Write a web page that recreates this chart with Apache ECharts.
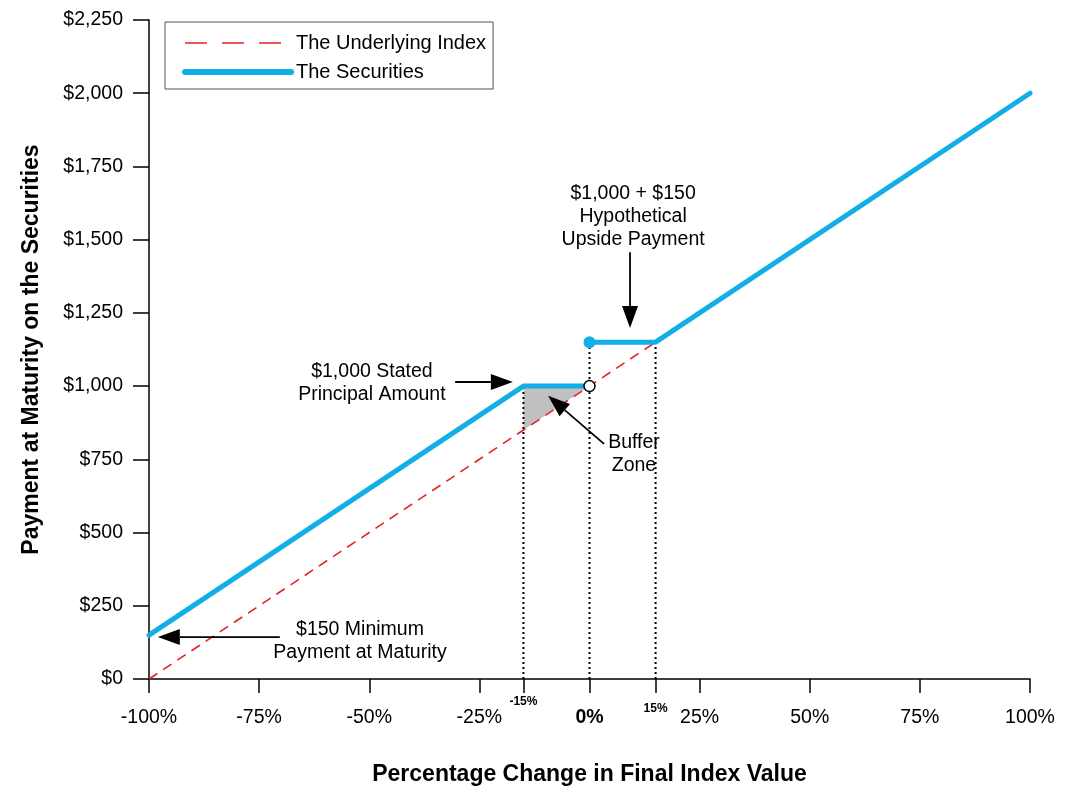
<!DOCTYPE html>
<html><head><meta charset="utf-8">
<script src="https://cdn.jsdelivr.net/npm/echarts@6/dist/echarts.min.js"></script>
<style>html,body{margin:0;padding:0;background:#fff}#c{width:1074px;height:791px}</style>
</head><body><div id="c"></div>
<script>
// ---- data ----
const xTickValues = [-100, -75, -50, -25, -15, 0, 15, 25, 50, 75, 100];
const xLabelValues = [-100, -75, -50, -25, -15, 0, 15, 25, 50, 75, 100];
const yTickValues = [0, 250, 500, 750, 1000, 1250, 1500, 1750, 2000, 2250];
const underlyingX = [-100, 100];
const underlyingY = [0, 2000];
const securitiesLowX = [-100, -15, 0];
const securitiesLowY = [150, 1000, 1000];
const securitiesHighX = [0, 15, 100];
const securitiesHighY = [1150, 1150, 2000];
const bufferX = [-15, 0, -15];
const bufferY = [1000, 1000, 850];
const guideX = [-15, 0, 15];
const guideTop = [1000, 1150, 1150];
const noteText = ['$150 Minimum\nPayment at Maturity', '$1,000 Stated\nPrincipal Amount', 'Buffer\nZone', '$1,000 + $150\nHypothetical\nUpside Payment'];
const noteX = [-52.1, -49.4, 10.1, 9.9];
const noteY = [129, 1011, 769, 1579];
const arrowFromX = [-70.3, -30.5, 3.3, 9.2];
const arrowFromY = [143, 1014, 803, 1457];
const arrowToX = [-98, -17.4, -9.4, 9.2];
const arrowToY = [143, 1014, 967, 1198];

const BLUE = '#12aee6', RED = '#e8202a', FONT = '"Liberation Sans", Arial, sans-serif';
const zip = (a, b) => a.map((v, i) => [v, b[i]]);

const chart = echarts.init(document.getElementById('c'), null, {renderer: 'canvas'});
chart.setOption({
  animation: false,
  backgroundColor: '#fff',
  textStyle: {fontFamily: FONT},
  grid: {left: 149, right: 44, top: 20, bottom: 110, containLabel: false},
  legend: {
    orient: 'vertical', left: 165, top: 22,
    data: [
      {name: 'The Underlying Index', itemStyle: {opacity: 0}, lineStyle: {width: 1.6, type: [22, 15], color: RED}},
      {name: 'The Securities', itemStyle: {opacity: 0}, lineStyle: {width: 6, color: BLUE, cap: 'round'}}
    ],
    borderColor: '#555', borderWidth: 1, padding: [11, 7, 7, 17],
    itemWidth: 106, itemHeight: 14, itemGap: 9,
    textStyle: {fontSize: 20, color: '#000', fontFamily: FONT, lineHeight: 20},
    selectedMode: false
  },
  xAxis: {
    type: 'value', min: -100, max: 100,
    axisLine: {onZero: false, lineStyle: {color: '#000', width: 1.5}},
    axisTick: {length: 14, lineStyle: {color: '#000', width: 1.5}, customValues: xTickValues},
    splitLine: {show: false},
    axisLabel: {
      customValues: xLabelValues, margin: 12, color: '#000', fontFamily: FONT, fontSize: 19.5,
      formatter: v => v === -15 ? '{a|-15%}' : v === 15 ? '{b|15%}' : v === 0 ? '{z|0%}' : '{n|' + v + '%}',
      rich: {
        n: {fontSize: 19.5, fontFamily: FONT, color: '#000', padding: [17, 0, 0, 0]},
        z: {fontSize: 19.5, fontFamily: FONT, color: '#000', fontWeight: 'bold', padding: [17, 0, 0, 0]},
        a: {fontSize: 12, fontFamily: FONT, color: '#000', fontWeight: 'bold', padding: [5, 0, 0, 0]},
        b: {fontSize: 12, fontFamily: FONT, color: '#000', fontWeight: 'bold', padding: [12, 0, 0, 0]}
      }
    },
    name: 'Percentage Change in Final Index Value', nameLocation: 'middle', nameGap: 84,
    nameTextStyle: {fontSize: 23, fontWeight: 'bold', color: '#000', fontFamily: FONT}
  },
  yAxis: {
    type: 'value', min: 0, max: 2250, interval: 250,
    axisLine: {show: true, onZero: false, lineStyle: {color: '#000', width: 1.5}},
    axisTick: {show: true, length: 16, lineStyle: {color: '#000', width: 1.5}},
    splitLine: {show: false},
    axisLabel: {margin: 26, color: '#000', fontSize: 19.5, fontFamily: FONT,
      formatter: v => '$' + v.toLocaleString('en-US')},
    name: 'Payment at Maturity on the Securities', nameLocation: 'middle', nameGap: 106,
    nameTextStyle: {fontSize: 23, fontWeight: 'bold', color: '#000', fontFamily: FONT}
  },
  series: [
    {
      type: 'custom', silent: true, z: 1,
      renderItem: (params, api) => {
        const pts = bufferX.map((x, i) => api.coord([x, bufferY[i]]));
        return {type: 'polygon', shape: {points: pts}, style: {fill: '#c0c0c0'}};
      },
      data: [[0, 0]]
    },
    {
      type: 'custom', silent: true, z: 2,
      renderItem: (params, api) => {
        const i = params.dataIndex;
        const a = api.coord([guideX[i], 0]), b = api.coord([guideX[i], guideTop[i]]);
        return {type: 'line', shape: {x1: a[0], y1: a[1], x2: b[0], y2: b[1]},
          style: {stroke: '#000', lineWidth: 2, lineDash: [2, 3]}};
      },
      data: guideX.map((x, i) => [x, guideTop[i]])
    },
    {
      name: 'The Underlying Index', type: 'line', symbol: 'none', z: 3,
      lineStyle: {color: RED, width: 1.6, type: [10, 7]},
      itemStyle: {color: RED},
      data: zip(underlyingX, underlyingY)
    },
    {
      name: 'The Securities', type: 'line', symbol: 'none', z: 4,
      lineStyle: {color: BLUE, width: 5, cap: 'round', join: 'round'},
      itemStyle: {color: BLUE},
      data: zip(securitiesLowX, securitiesLowY)
    },
    {
      name: 'The Securities', type: 'line', symbol: 'none', z: 4,
      lineStyle: {color: BLUE, width: 5, cap: 'round', join: 'round'},
      itemStyle: {color: BLUE},
      data: zip(securitiesHighX, securitiesHighY)
    },
    {
      type: 'scatter', silent: true, z: 5, symbolSize: 12,
      itemStyle: {color: BLUE, opacity: 1},
      data: [[securitiesHighX[0], securitiesHighY[0]]]
    },
    {
      type: 'scatter', silent: true, z: 6, symbolSize: 11,
      itemStyle: {color: '#fff', borderColor: '#000', borderWidth: 1.5, opacity: 1},
      data: [[securitiesLowX[2], securitiesLowY[2]]]
    },
    {
      type: 'custom', silent: true, z: 7,
      renderItem: (params, api) => {
        const i = params.dataIndex;
        const p1 = api.coord([arrowFromX[i], arrowFromY[i]]);
        const p2 = api.coord([arrowToX[i], arrowToY[i]]);
        const dx = p2[0] - p1[0], dy = p2[1] - p1[1];
        const len = Math.sqrt(dx * dx + dy * dy);
        const ux = dx / len, uy = dy / len;
        const hl = 22, hw = 8;
        const bx = p2[0] - ux * hl, by = p2[1] - uy * hl;
        return {type: 'group', children: [
          {type: 'line', shape: {x1: p1[0], y1: p1[1], x2: bx, y2: by}, style: {stroke: '#000', lineWidth: 1.8}},
          {type: 'polygon', shape: {points: [[p2[0], p2[1]], [bx - uy * hw, by + ux * hw], [bx + uy * hw, by - ux * hw]]},
            style: {fill: '#000'}}
        ]};
      },
      data: arrowFromX.map((x, i) => [x, arrowFromY[i]])
    },
    {
      type: 'custom', silent: true, z: 8,
      renderItem: (params, api) => {
        const i = params.dataIndex;
        const p = api.coord([noteX[i], noteY[i]]);
        return {type: 'text', style: {text: noteText[i], x: p[0], y: p[1], align: 'center', verticalAlign: 'middle',
          fontSize: 19.5, fontFamily: FONT, lineHeight: 23, fill: '#000'}};
      },
      data: noteX.map((x, i) => [x, noteY[i]])
    }
  ]
});
</script></body></html>
